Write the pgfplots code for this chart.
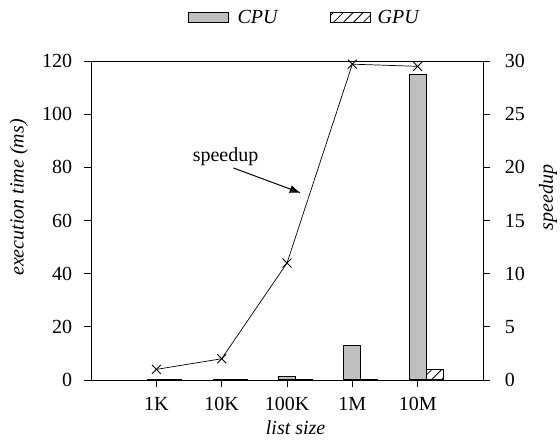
\documentclass[border=0pt]{standalone}
\usepackage{fontspec}
\setmainfont{Liberation Serif}
\usepackage{pgfplots}
\pgfplotsset{compat=1.18}
\usetikzlibrary{patterns.meta,calc,arrows.meta}

\begin{document}
\fontsize{20}{24}\selectfont
\begin{tikzpicture}[font=\fontsize{20}{24}\selectfont]
\begin{axis}[name=ax,
 scale only axis, width=392pt, height=319pt,
 xmin=-1, xmax=5, ymin=0, ymax=120,
 xtick={0,...,4}, xticklabels={1K,10K,100K,1M,10M},
 ytick={0,20,...,120},
 xtick pos=bottom, ytick pos=left, tick align=outside,
 major tick length=7pt,
 axis line style={line width=0.9pt},
 every tick/.style={line width=0.9pt, black},
 /pgf/number format/assume math mode=true,
 yticklabel style={xshift=-5pt},
 xticklabel style={yshift=-3pt},
 xlabel={\itshape list size}, ylabel={\itshape execution time (ms)},
 every axis x label/.style={at={(axis description cs:0.522,-0.172)},anchor=base},
 every axis y label/.style={at={(axis description cs:-0.184,0.572)},rotate=90,anchor=center},
 legend style={at={(axis description cs:0.545,1.135)}, anchor=center, draw=none, legend columns=2,
   font=\fontsize{20}{24}\selectfont\itshape, /tikz/column 2/.style={column sep=50pt}},
 ybar, bar width=17pt,
]
\addplot[fill=black!25, draw=black, line width=1.2pt, bar shift=0pt,
  legend image code/.code={\draw[fill=black!25, draw=black, line width=1pt] (0pt,-5pt) rectangle (40pt,5pt); \path (46pt,0pt);}]
  coordinates {(0,0.1) (1,0.2) (2,1.2) (3,13) (4,115)};
\addlegendentry{CPU}
\addplot[pattern={Lines[angle=45,distance=7pt,line width=0.8pt]}, draw=black, line width=1.2pt, bar shift=17pt,
  legend image code/.code={\draw[pattern={Lines[angle=45,distance=7pt,line width=0.8pt]}, draw=black, line width=1pt] (0pt,-5pt) rectangle (40pt,5pt); \path (45pt,0pt);}]
  coordinates {(0,0.05) (1,0.05) (2,0.1) (3,0.3) (4,3.9)};
\addlegendentry{GPU}
\end{axis}
\begin{axis}[
 scale only axis, width=392pt, height=319pt,
 xmin=-1, xmax=5, ymin=0, ymax=30,
 axis y line*=right, axis x line=none,
 ytick={0,5,...,30}, tick align=outside, major tick length=7pt,
 axis line style={line width=0.9pt},
 every tick/.style={line width=0.9pt, black},
 /pgf/number format/assume math mode=true,
 yticklabel style={xshift=8pt},
 ylabel={\itshape speedup},
 every axis y label/.style={at={(axis description cs:1.166,0.572)},rotate=90,anchor=center},
 clip=false,
]
\addplot[black, line width=0.7pt, mark=x, mark size=6.3pt, mark options={line width=0.9pt}]
  coordinates {(0,1) (1,2) (2,11) (3,29.7) (4,29.5)};
\node at (axis cs:1.06,21) {speedup};
\draw[-{Latex[length=11pt,width=8pt]}, line width=1pt] (axis cs:1.18,19.94) -- (axis cs:2.21,17.59);
\end{axis}
\pgfresetboundingbox
\path[use as bounding box] ($(ax.south west)+(-91pt,-65pt)$) rectangle ($(ax.north east)+(77pt,61pt)$);
\end{tikzpicture}
\end{document}
